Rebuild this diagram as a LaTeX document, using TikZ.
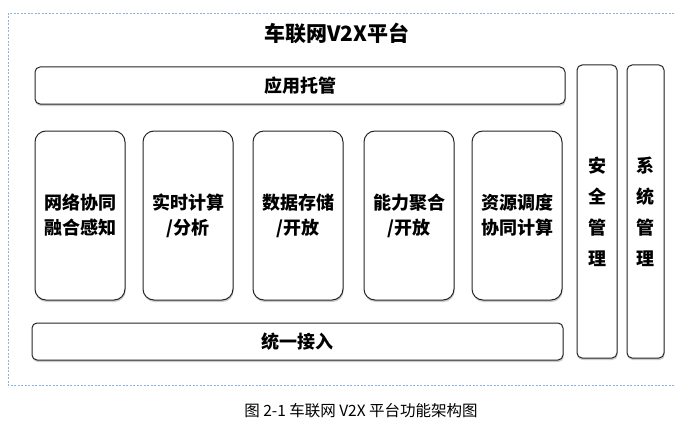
\documentclass[tikz,border=0pt]{standalone}
\usepackage{fontspec}
\newfontfamily\cjk{Noto Sans CJK SC}
\usetikzlibrary{shadows}
\definecolor{framecol}{RGB}{141,179,226}

\begin{document}
\begin{tikzpicture}[
    x=1pt, y=-1pt,
    frame/.style={draw=framecol, dash pattern=on 2pt off 1.5pt, line width=0.6pt},
    box/.style={draw=black!85, line width=1pt, fill=white, inner sep=0pt,
        drop shadow={opacity=0.4, shadow xshift=0.6pt, shadow yshift=-2pt},
        font=\cjk\bfseries\fontsize{18}{25}\selectfont, align=center},
    wide box/.style={box, rounded corners=5pt, minimum width=530pt, minimum height=37pt},
    tall box/.style={box, rounded corners=11pt, minimum width=90pt, minimum height=169pt},
    side box/.style={box, rounded corners=5pt, minimum height=293pt,
        font=\cjk\bfseries\fontsize{18}{31}\selectfont}
]
    \useasboundingbox (0,0) rectangle (675,428);

    % ==================== FRAME ====================
    \draw[frame] (8,13) rectangle (676,385);
    \node[font=\cjk\bfseries\fontsize{21}{25}\selectfont] (title) at (337,33) {车联网V2X平台};

    % ==================== LAYERS ====================
    \node[wide box] (app) at (300,85.5) {应用托管};
    \node[wide box, minimum width=531pt] (access) at (297.5,341.5) {统一接入};

    % Function boxes
    \node[tall box] (sense) at (80,215.5) {网络协同\\融合感知};
    \node[tall box] (compute) at (188,215.5) {实时计算\\/分析};
    \node[tall box] (storage) at (298,215.5) {数据存储\\/开放};
    \node[tall box] (ability) at (409,215.5) {能力聚合\\/开放};
    \node[tall box] (sched) at (517,215.5) {资源调度\\协同计算};

    % ==================== SIDE COLUMNS ====================
    \node[side box, minimum width=40pt] (safety) at (597,211.5) {安\\全\\管\\理};
    \node[side box, minimum width=37pt] (system) at (645.5,211.5) {系\\统\\管\\理};

    % Caption
    \node[font=\cjk\fontsize{15.5}{18}\selectfont] (caption) at (361,411) {图 2-1 车联网 V2X 平台功能架构图};
\end{tikzpicture}
\end{document}
